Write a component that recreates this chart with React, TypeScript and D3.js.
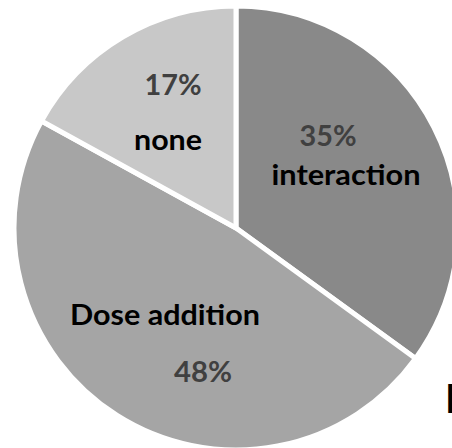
import React from "react";
import * as d3 from "d3";

const categories = ["interaction", "Dose addition", "none"];
const values = [35, 48, 17];
const percentLabels = ["35%", "48%", "17%"];
const colors = ["#898989", "#a5a5a5", "#c8c8c8"];

const W = 452;
const H = 448;
const cx = 236;
const cy = 228;
const R = 222;

export default function App() {
  const pie = d3.pie<number>().sort(null).value((d) => d)(values);
  const arc = d3.arc<d3.PieArcDatum<number>>().innerRadius(0).outerRadius(R);

  const layout = [
    { name: [110, -43], pct: [92, -82], nameW: 149, pctW: 57 },
    { name: [-71, 97], pct: [-33, 154], nameW: 190, pctW: 58 },
    { name: [-68, -78], pct: [-63, -133], nameW: 68, pctW: 57 },
  ];

  const font = "Lato, 'Open Sans', sans-serif";

  return (
    <div style={{ position: "absolute", left: 0, top: 0 }}>
      <svg width={W} height={H} style={{ display: "block", background: "#fff" }}>
        <g transform={`translate(${cx},${cy})`}>
          {pie.map((p, i) => (
            <path key={i} d={arc(p) || ""} fill={colors[i]} stroke="#fff" strokeWidth={5} strokeLinejoin="miter" />
          ))}
          {pie.map((p, i) => {
            const l = layout[i];
            return (
              <g key={"l" + i} fontFamily={font} fontWeight={700} fontSize={29} textAnchor="middle">
                <text x={l.name[0]} y={l.name[1]} fill="#000" textLength={l.nameW} lengthAdjust="spacingAndGlyphs">
                  {categories[i]}
                </text>
                <text x={l.pct[0]} y={l.pct[1]} fill="#404040" textLength={l.pctW} lengthAdjust="spacingAndGlyphs">
                  {percentLabels[i]}
                </text>
              </g>
            );
          })}
        </g>
        <text x={445} y={413} fontFamily={font} fontWeight={700} fontSize={40} fill="#000">I</text>
      </svg>
    </div>
  );
}
